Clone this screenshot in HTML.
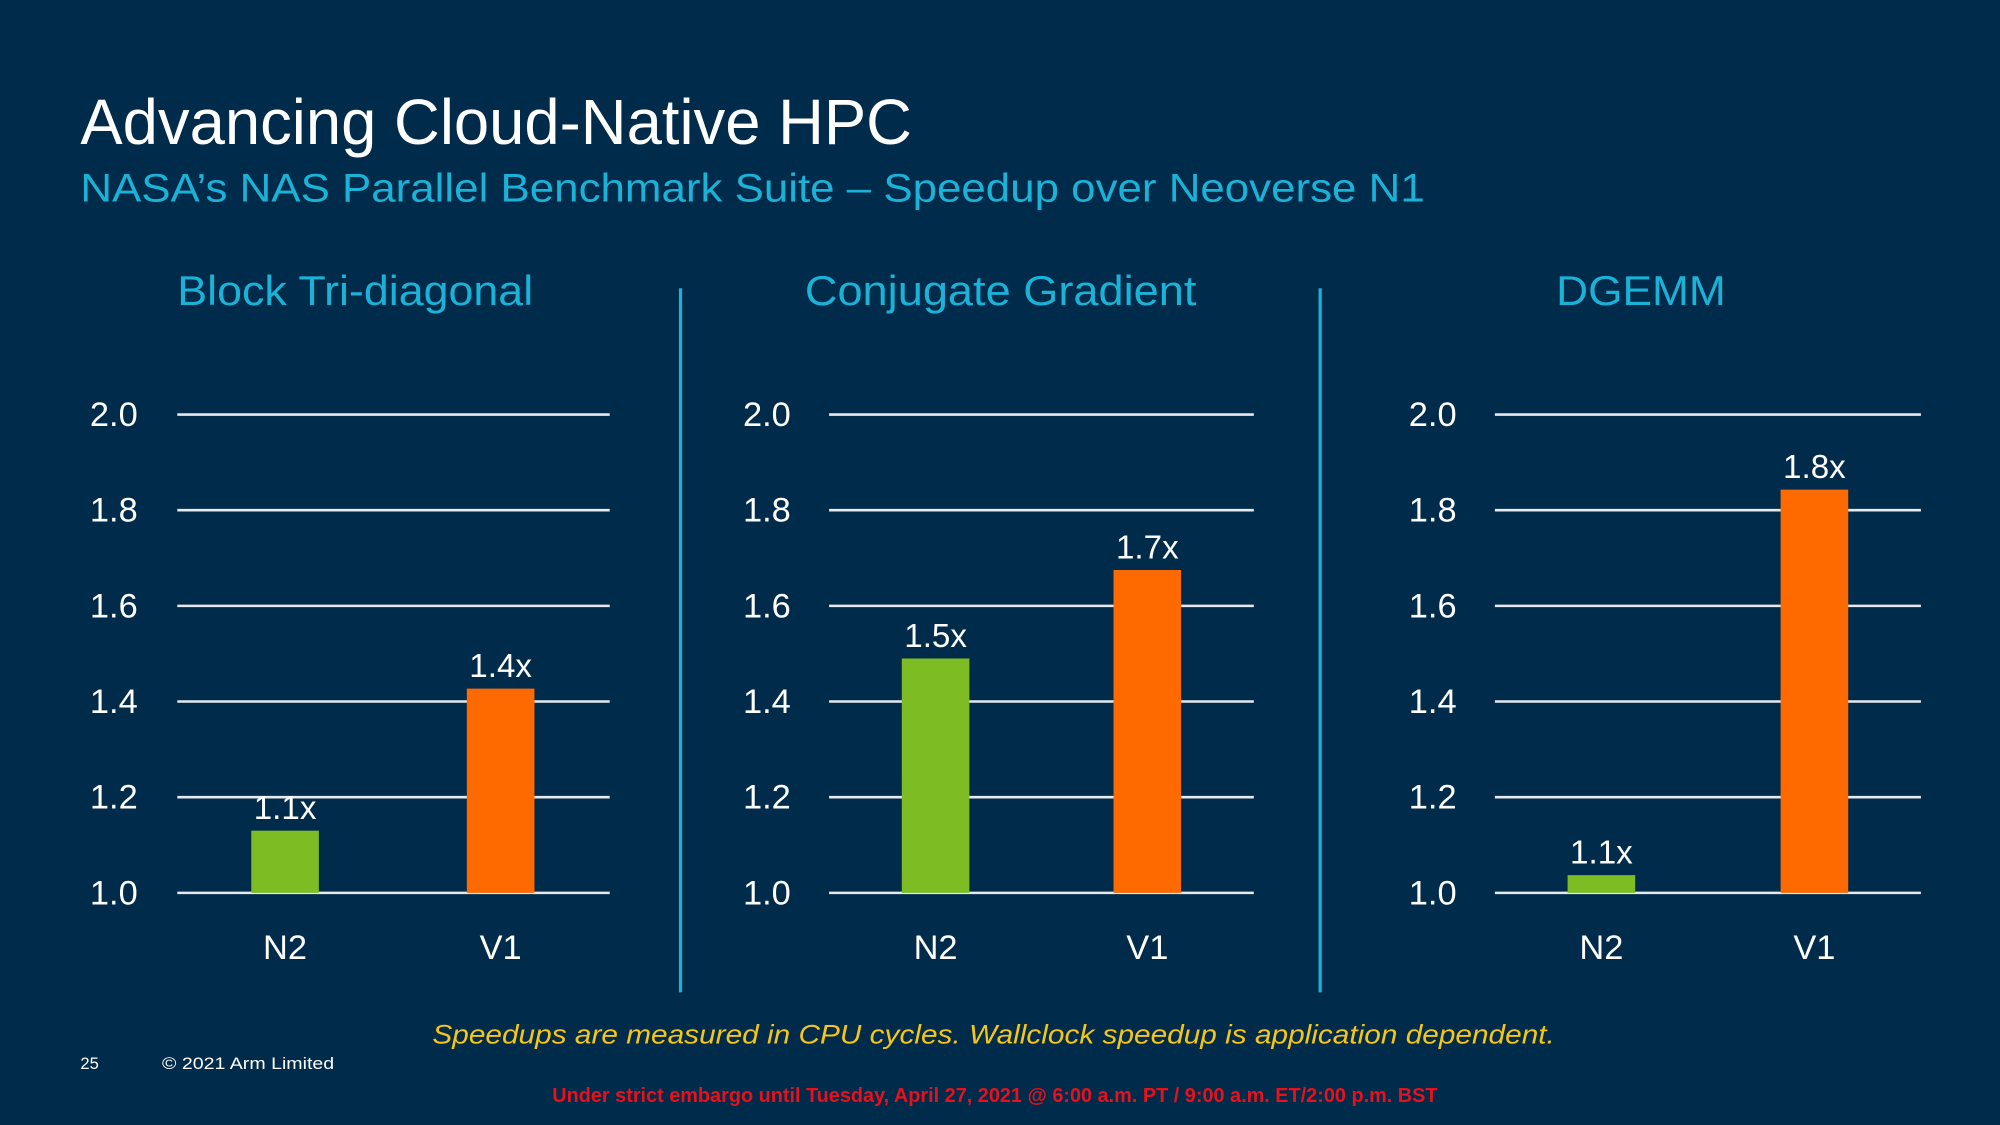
<!DOCTYPE html>
<html>
<head>
<meta charset="utf-8">
<style>
html,body{margin:0;padding:0;background:#002b4a;}
svg{display:block;}
text{font-family:"Liberation Sans",sans-serif;}
</style>
</head>
<body>
<svg id="slide" width="2000" height="1125" viewBox="0 0 1568 882" xmlns="http://www.w3.org/2000/svg">
<rect x="0" y="0" width="1568" height="882" fill="#002b4a"/>
<text x="63" y="113" fill="#ffffff" font-size="50" textLength="652" lengthAdjust="spacingAndGlyphs">Advancing Cloud-Native HPC</text>
<text x="63" y="158" fill="#1bb2d8" font-size="31" textLength="1054" lengthAdjust="spacingAndGlyphs">NASA’s NAS Parallel Benchmark Suite – Speedup over Neoverse N1</text>
<line x1="533.5" y1="226" x2="533.5" y2="778" stroke="#1bb2d8" stroke-width="2.5"/>
<line x1="1035" y1="226" x2="1035" y2="778" stroke="#1bb2d8" stroke-width="2.5"/>
<g id="charts"></g>
<text x="779" y="818" fill="#f5c518" font-size="21" font-style="italic" text-anchor="middle" textLength="880" lengthAdjust="spacingAndGlyphs">Speedups are measured in CPU cycles.  Wallclock speedup is application dependent.</text>
<text x="63" y="838" fill="#ffffff" font-size="13">25</text>
<text x="127" y="838" fill="#ffffff" font-size="13" textLength="135" lengthAdjust="spacingAndGlyphs">© 2021 Arm Limited</text>
<text x="780" y="864" fill="#e8101a" font-size="16" font-weight="bold" text-anchor="middle" textLength="694" lengthAdjust="spacingAndGlyphs">Under strict embargo until Tuesday, April 27, 2021 @ 6:00 a.m. PT / 9:00 a.m. ET/2:00 p.m. BST</text>
</svg>
<script>
const chartTitles = ["Block Tri-diagonal", "Conjugate Gradient", "DGEMM"];
const categories = ["N2", "V1"];
const n2Values = [1.13, 1.49, 1.037];
const v1Values = [1.427, 1.675, 1.843];
const valueLabels = [["1.1x", "1.4x"], ["1.5x", "1.7x"], ["1.1x", "1.8x"]];
const tickValues = [1.0, 1.2, 1.4, 1.6, 1.8, 2.0];
const tickLabels = ["1.0", "1.2", "1.4", "1.6", "1.8", "2.0"];

const NS = "http://www.w3.org/2000/svg";
const layouts = [
  {gx0:139, gx1:478, tickX:108, titleX:139, titleW:279, bars:[197,366]},
  {gx0:650, gx1:983, tickX:620, titleX:631, titleW:307, bars:[707,873]},
  {gx0:1172, gx1:1506, tickX:1142, titleX:1220, titleW:133, bars:[1229,1396]}
];
const barW = 53, yMin = 1.0, yMax = 2.0, yTop = 325, yBot = 700;
function yScale(v){ return yBot - (v - yMin) / (yMax - yMin) * (yBot - yTop); }
function mk(tag, attrs, parent){
  const e = document.createElementNS(NS, tag);
  for (const k in attrs) e.setAttribute(k, attrs[k]);
  parent.appendChild(e);
  return e;
}
const root = document.getElementById('charts');
layouts.forEach((L, ci) => {
  const g = mk('g', {}, root);
  
  
  const t = mk('text', {x:L.titleX, y:239, fill:'#1bb2d8', 'font-size':33, textLength:L.titleW, lengthAdjust:'spacingAndGlyphs'}, g);
  t.textContent = chartTitles[ci];
  
  
  tickValues.forEach((v, i) => {
    const y = yScale(v);
    const ln = mk('line', {x1:L.gx0, x2:L.gx1, y1:y, y2:y, stroke:'#e6e9ee', 'stroke-width':2}, g);
    
    
    const tl = mk('text', {x:L.tickX, y:y+9, fill:'#ffffff', 'font-size':27, 'text-anchor':'end'}, g);
    tl.textContent = tickLabels[i];
    
    
  });
  const vals = [n2Values[ci], v1Values[ci]];
  const colors = ['#7dbd23', '#ff6a00'];
  vals.forEach((v, bi) => {
    const x = L.bars[bi];
    const y = yScale(v);
    const r = mk('rect', {x:x, y:y, width:barW, height:yBot - y, fill:colors[bi]}, g);
    
    
    const vl = mk('text', {x:x+barW/2, y:y-9, fill:'#ffffff', 'font-size':26, 'text-anchor':'middle'}, g);
    vl.textContent = valueLabels[ci][bi];
    
    
    const cl = mk('text', {x:x+barW/2, y:752, fill:'#ffffff', 'font-size':27, 'text-anchor':'middle'}, g);
    cl.textContent = categories[bi];
    
    
  });
});
</script>
</body>
</html>
